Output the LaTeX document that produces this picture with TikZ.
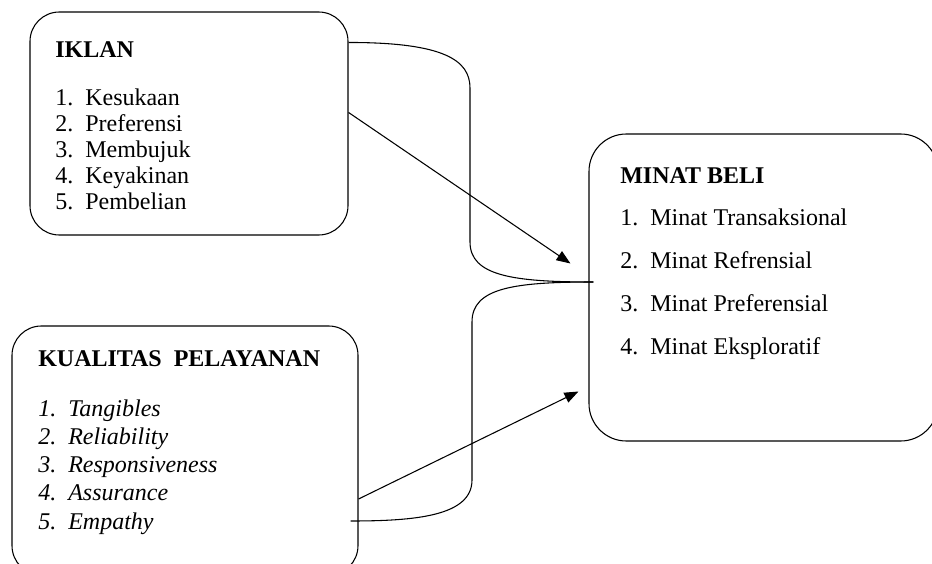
\documentclass[tikz,border=0pt]{standalone}
\usepackage{fontspec}
\setmainfont{Liberation Serif}
\usetikzlibrary{arrows.meta,calc}
\newcommand\itm[2]{\makebox[22.5pt][l]{#1}#2}

\begin{document}
\begin{tikzpicture}[x=0.75pt,y=-0.75pt,
  box/.style={draw, line width=0.8pt, rounded corners=22pt, inner sep=0pt},
  lst/.style={anchor=north west, inner sep=0pt, align=left},
  link/.style={line width=0.8pt},
  arr/.style={line width=0.8pt, -{Triangle[length=10.5pt,width=8pt]}}]
  \useasboundingbox (0,0) rectangle (932,564);
  % boxes
  \node[box, minimum width=238.5pt, minimum height=167.25pt] (iklan) at (189,123.5) {};
  \node[box, minimum width=259.5pt, minimum height=186.75pt] (kual) at (185,450.5) {};
  \node[box, minimum width=261.75pt, minimum height=230.25pt, rounded corners=28pt] (minat) at (763.5,287.5) {};
  % texts
  \node[lst, font=\fontsize{18}{19.5}\selectfont] (iklantxt) at (55,41) {\textbf{IKLAN}\\[16.5pt]
    \itm{1.}{Kesukaan}\\ \itm{2.}{Preferensi}\\ \itm{3.}{Membujuk}\\
    \itm{4.}{Keyakinan}\\ \itm{5.}{Pembelian}};
  \node[lst, font=\fontsize{18}{21.2}\selectfont] (kualtxt) at (38,350) {\textbf{KUALITAS\ \ PELAYANAN}\\[16.3pt]
    \textit{\itm{1.}{Tangibles}}\\ \textit{\itm{2.}{Reliability}}\\ \textit{\itm{3.}{Responsiveness}}\\
    \textit{\itm{4.}{Assurance}}\\ \textit{\itm{5.}{Empathy}}};
  \node[lst, font=\fontsize{18}{32.25}\selectfont] (minattxt) at (620,167) {\textbf{MINAT BELI}\\[-0.75pt]
    \itm{1.}{Minat Transaksional}\\ \itm{2.}{Minat Refrensial}\\
    \itm{3.}{Minat Preferensial}\\ \itm{4.}{Minat Eksploratif}};
  % connectors
  \coordinate (meet) at ($(minat.west)+(5,-5.5)$);
  \draw[link] ($(iklan.north east)+(0,31)$) .. controls +(95,0) and +(0,-28) .. (470,88)
    -- (470,242) .. controls +(0,34) and +(-80,0) .. (meet);
  \draw[link] (meet) .. controls +(-80,0) and +(0,-34) .. (472,322)
    -- (472,480) .. controls +(0,36) and +(65,0) .. ($(kual.east)+(-8,70.5)$);
  \draw[arr] ($(iklan.north east)+(0,101)$) -- ($(minat.west)+(-18,-24)$);
  \draw[arr] ($(kual.east)+(0,48.5)$) -- ($(minat.west)+(-10,104)$);
\end{tikzpicture}
\end{document}
